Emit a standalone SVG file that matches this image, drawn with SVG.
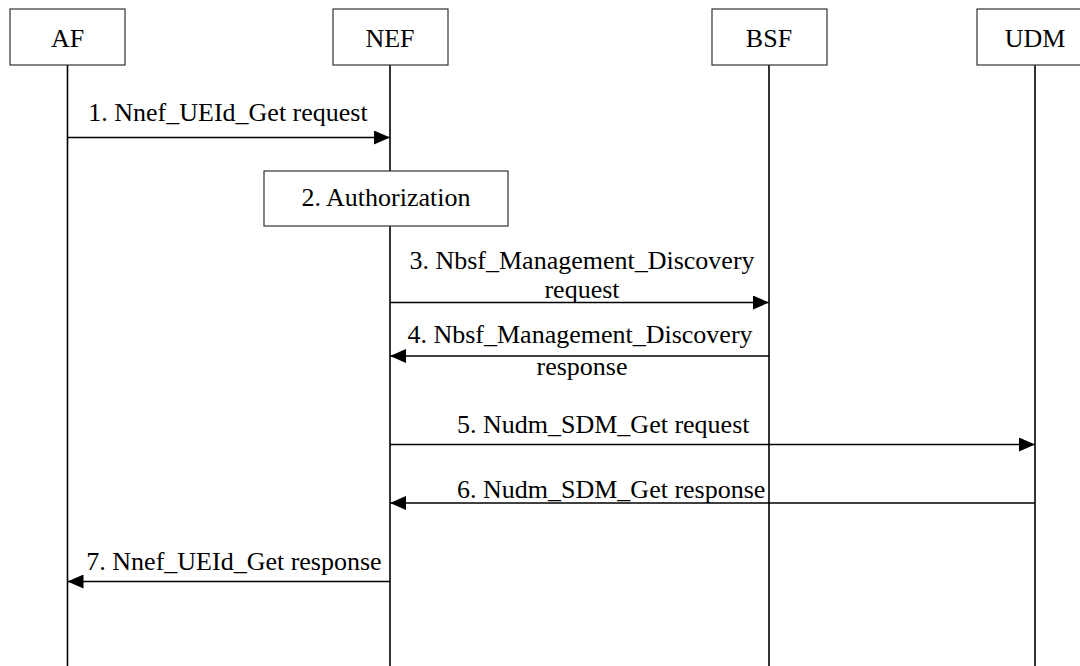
<svg xmlns="http://www.w3.org/2000/svg" width="1080" height="666" viewBox="0 0 1080 666">
<defs>
<style>
text{font-family:"Liberation Serif","Times New Roman",serif;font-size:26px;fill:#000}
.box{fill:#fff;stroke:#333;stroke-width:1.2}
.life{stroke:#000;stroke-width:1.6}
.msg{stroke:#000;stroke-width:1.6;fill:none}
.c{text-anchor:middle}
</style>
<marker id="ah" viewBox="0 0 16 14" refX="16" refY="7" markerWidth="16" markerHeight="14" markerUnits="userSpaceOnUse" orient="auto">
<path d="M0,0 L16,7 L0,14 Z" fill="#000"/>
</marker>
</defs>
<rect width="1080" height="666" fill="#fff"/>
<g id="lifelines">
<line class="life" x1="67.5" y1="65" x2="67.5" y2="666"/>
<line class="life" x1="390" y1="65" x2="390" y2="666"/>
<line class="life" x1="769" y1="65" x2="769" y2="666"/>
<line class="life" x1="1035" y1="65" x2="1035" y2="666"/>
</g>
<g id="AF"><rect class="box" x="10" y="9" width="115" height="56"/><text class="c" x="67.5" y="47">AF</text></g>
<g id="NEF"><rect class="box" x="333" y="9" width="115" height="56"/><text class="c" x="390" y="47">NEF</text></g>
<g id="BSF"><rect class="box" x="712" y="9" width="115" height="56"/><text class="c" x="769" y="47">BSF</text></g>
<g id="UDM"><rect class="box" x="977" y="9" width="115" height="56"/><text class="c" x="1035" y="47">UDM</text></g>
<g id="auth"><rect class="box" x="264" y="171" width="244" height="55"/><text class="c" x="386" y="206">2. Authorization</text></g>
<g id="connectors">
<line class="msg" x1="67.5" y1="137.5" x2="390" y2="137.5" marker-end="url(#ah)"/>
<text class="c" x="228" y="121">1. Nnef_UEId_Get request</text>
<line class="msg" x1="390" y1="302.5" x2="769" y2="302.5" marker-end="url(#ah)"/>
<text class="c" x="582" y="269">3. Nbsf_Management_Discovery</text>
<text class="c" x="582" y="298">request</text>
<line class="msg" x1="769" y1="356" x2="390" y2="356" marker-end="url(#ah)"/>
<text class="c" x="580" y="343">4. Nbsf_Management_Discovery</text>
<text class="c" x="582" y="375">response</text>
<line class="msg" x1="390" y1="444.5" x2="1035" y2="444.5" marker-end="url(#ah)"/>
<text x="457" y="433">5. Nudm_SDM_Get request</text>
<line class="msg" x1="1035" y1="503" x2="390" y2="503" marker-end="url(#ah)"/>
<text x="457" y="498">6. Nudm_SDM_Get response</text>
<line class="msg" x1="390" y1="581.5" x2="67.5" y2="581.5" marker-end="url(#ah)"/>
<text class="c" x="234" y="570">7. Nnef_UEId_Get response</text>
</g>
</svg>
